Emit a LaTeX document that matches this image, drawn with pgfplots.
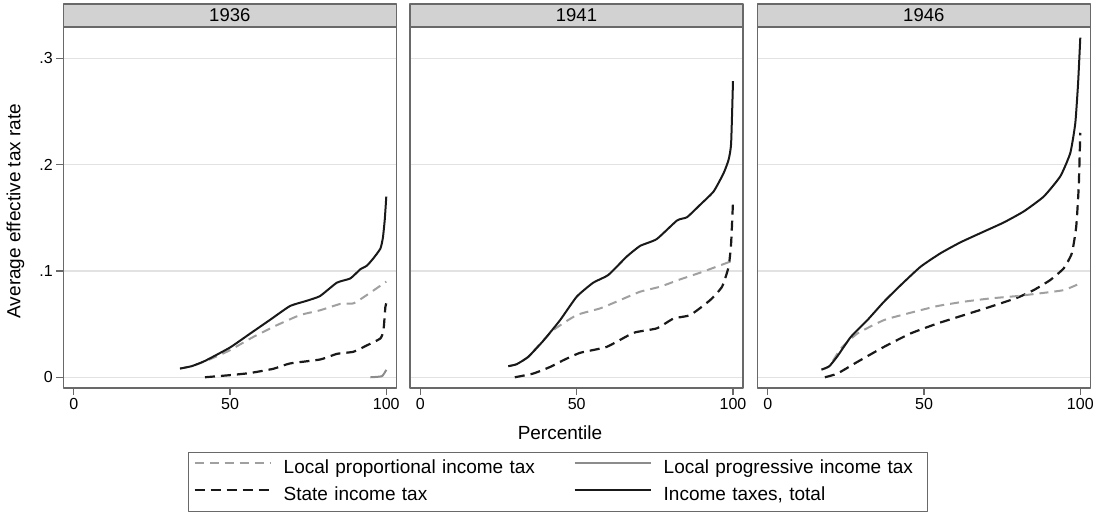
\documentclass[border=0pt]{standalone}
\usepackage{fontspec}
\setmainfont{Liberation Sans}
\usepackage{pgfplots}
\pgfplotsset{compat=1.18}

\definecolor{framegray}{RGB}{105,105,105}
\definecolor{gridgray}{RGB}{226,226,226}
\definecolor{stripfill}{RGB}{210,210,210}
\definecolor{propgray}{RGB}{160,160,160}
\definecolor{proggray}{RGB}{140,140,140}
\definecolor{darkline}{RGB}{25,25,25}

\pgfplotsset{
  propline/.style={propgray, line width=2pt, dash pattern=on 9pt off 6pt},
  progline/.style={proggray, line width=2pt, solid},
  stateline/.style={darkline, line width=2.2pt, dash pattern=on 10pt off 6pt},
  totalline/.style={darkline, line width=2pt, solid},
  panel/.style={
    scale only axis, width=333pt, height=361pt,
    xmin=-3.33, xmax=103.2, ymin=-0.0101, ymax=0.3295,
    axis line style={framegray, line width=1.5pt},
    xtick={0,50,100}, ytick={0,0.1,0.2,0.3},
    xtick pos=lower, ytick pos=left,
    tick align=outside, major tick length=7pt,
    tick style={framegray, line width=1.2pt},
    ymajorgrids, grid style={gridgray, line width=1.5pt},
    ticklabel style={font=\fontsize{16}{19}\selectfont},
    /pgf/number format/assume math mode=true,
    clip=false, no markers, line join=round,
    every axis plot/.append style={smooth, tension=0.3},
  },
}

% grey header strip with the year above each panel
\newcommand{\yearstrip}[1]{%
  \draw[fill=stripfill, draw=framegray, line width=1.5pt]
    (rel axis cs:0,1) rectangle (rel axis cs:1,1.0637);
  \node[font=\fontsize{18.5}{22}\selectfont] at (rel axis cs:0.5,1.0319) {#1};
}

\begin{document}
\begin{tikzpicture}
\useasboundingbox (0,0) rectangle (1093pt,515pt);

% ---------------- 1936 ----------------
\begin{axis}[panel, at={(63.3pt,127pt)}, anchor=south west,
  yticklabels={0,.1,.2,.3}]
\addplot[stateline] coordinates {
 (42,0) (50,0.002) (56.4,0.004) (63.9,0.008) (69.2,0.013) (78.8,0.0167)
 (84.2,0.022) (89.5,0.024) (93.8,0.030) (98.1,0.0365) (99.1,0.0443)
 (99.7,0.066) (100,0.0695)};
\addplot[propline] coordinates {
 (34,0.0082) (37.7,0.0104) (42,0.0150) (46,0.020) (50,0.0255) (57.5,0.038)
 (65,0.049) (72.4,0.0585) (78.8,0.063) (85.3,0.069) (89.5,0.0695)
 (93.8,0.0774) (100,0.090)};
\addplot[progline] coordinates {
 (94.9,0) (98.6,0.001) (100,0.007)};
\addplot[totalline] coordinates {
 (34,0.0082) (37.7,0.0104) (42,0.0154) (50,0.028) (56.4,0.041) (62.8,0.054)
 (69.2,0.067) (74.6,0.072) (78.8,0.0764) (84.2,0.089) (88.5,0.093)
 (91.7,0.1016) (93.8,0.105) (95.9,0.112) (98.1,0.121) (98.9,0.131)
 (99.5,0.148) (100,0.170)};
\yearstrip{1936}
\end{axis}

% ---------------- 1941 ----------------
\begin{axis}[panel, at={(410pt,127pt)}, anchor=south west,
  yticklabels={}, ytick style={draw=none},
  legend columns=2,
  legend cell align=left,
  legend image code/.code={\draw[#1] (0pt,5.5pt) -- (76pt,5.5pt);},
  legend style={at={(-0.6667,-0.1773)}, anchor=north west,
    draw=framegray, line width=1pt,
    font=\fontsize{19}{23}\selectfont,
    inner xsep=5pt, inner ysep=7pt, row sep=9pt,
    nodes={inner sep=0pt, text height=14pt, text depth=4pt},
    /tikz/every odd column/.append style={column sep=12pt},
    /tikz/every even column/.append style={column sep=31pt, text width=259pt}}]
\addlegendimage{propline}
\addlegendentry{Local proportional income tax}
\addlegendimage{progline}
\addlegendentry{Local progressive income tax}
\addlegendimage{stateline}
\addlegendentry{State income tax}
\addlegendimage{totalline}
\addlegendentry{Income taxes, total}
\addplot[stateline, forget plot] coordinates {
 (30.2,0) (36.1,0.0035) (41.5,0.0097) (45.7,0.016) (51.1,0.023) (59.6,0.0286)
 (68.2,0.0418) (75.6,0.046) (81,0.0553) (86.3,0.0585) (92.7,0.0726)
 (96.5,0.0852) (98.6,0.104) (99.4,0.126) (100,0.165)};
\addplot[propline, forget plot] coordinates {
 (28.1,0.0104) (30.8,0.0123) (34.5,0.019) (36.1,0.0245) (42.5,0.0443)
 (50,0.0585) (57.5,0.0648) (63.9,0.0726) (70.3,0.0805) (76.7,0.0852)
 (83.1,0.0921) (89.5,0.0984) (99.1,0.1088) (100,0.111)};
\addplot[totalline, forget plot] coordinates {
 (28.1,0.0104) (30.8,0.0123) (34.5,0.0192) (39.3,0.0343) (44.7,0.0538)
 (50,0.0758) (55.3,0.089) (60.1,0.0962) (66,0.1135) (70.3,0.1236)
 (75.6,0.130) (82.1,0.1475) (85.3,0.1506) (89.5,0.1623) (93.8,0.1748)
 (97,0.192) (98.6,0.2047) (99.4,0.220) (100,0.2786)};
\yearstrip{1941}
\end{axis}

% ---------------- 1946 ----------------
\begin{axis}[panel, at={(757.3pt,127pt)}, anchor=south west,
  yticklabels={}, ytick style={draw=none}]
\addplot[stateline] coordinates {
 (18.3,0) (22.3,0.0035) (28.7,0.0145) (37.2,0.0286) (45.7,0.0412)
 (54.3,0.0506) (62.8,0.0585) (71.3,0.0664) (79.8,0.0748) (85.1,0.082)
 (90.4,0.0915) (94.7,0.1025) (97.3,0.1167) (98.7,0.1418) (99.5,0.1796)
 (100,0.230)};
\addplot[propline] coordinates {
 (17.2,0.0072) (19.7,0.0104) (23.4,0.027) (28.7,0.0412) (37.2,0.0538)
 (45.7,0.0607) (54.3,0.067) (62.8,0.0711) (71.3,0.0742) (79.8,0.0764)
 (87.2,0.079) (94.7,0.082) (100,0.0884)};
\addplot[totalline] coordinates {
 (17.2,0.0072) (19.7,0.0104) (22.3,0.0198) (26.6,0.038) (31.9,0.0538)
 (37.2,0.0711) (42.6,0.0868) (48.9,0.104) (55.3,0.1167) (61.7,0.127)
 (69.1,0.137) (75.5,0.1456) (81.9,0.156) (88.3,0.170) (93.6,0.189)
 (96.8,0.211) (98.4,0.239) (99.3,0.277) (100,0.3195)};
\yearstrip{1946}
\end{axis}

\node[font=\fontsize{19}{23}\selectfont] at (560pt,82pt) {Percentile};
\node[rotate=90, font=\fontsize{19}{23}\selectfont] at (15.5pt,304pt)
  {Average effective tax rate};
\end{tikzpicture}
\end{document}
